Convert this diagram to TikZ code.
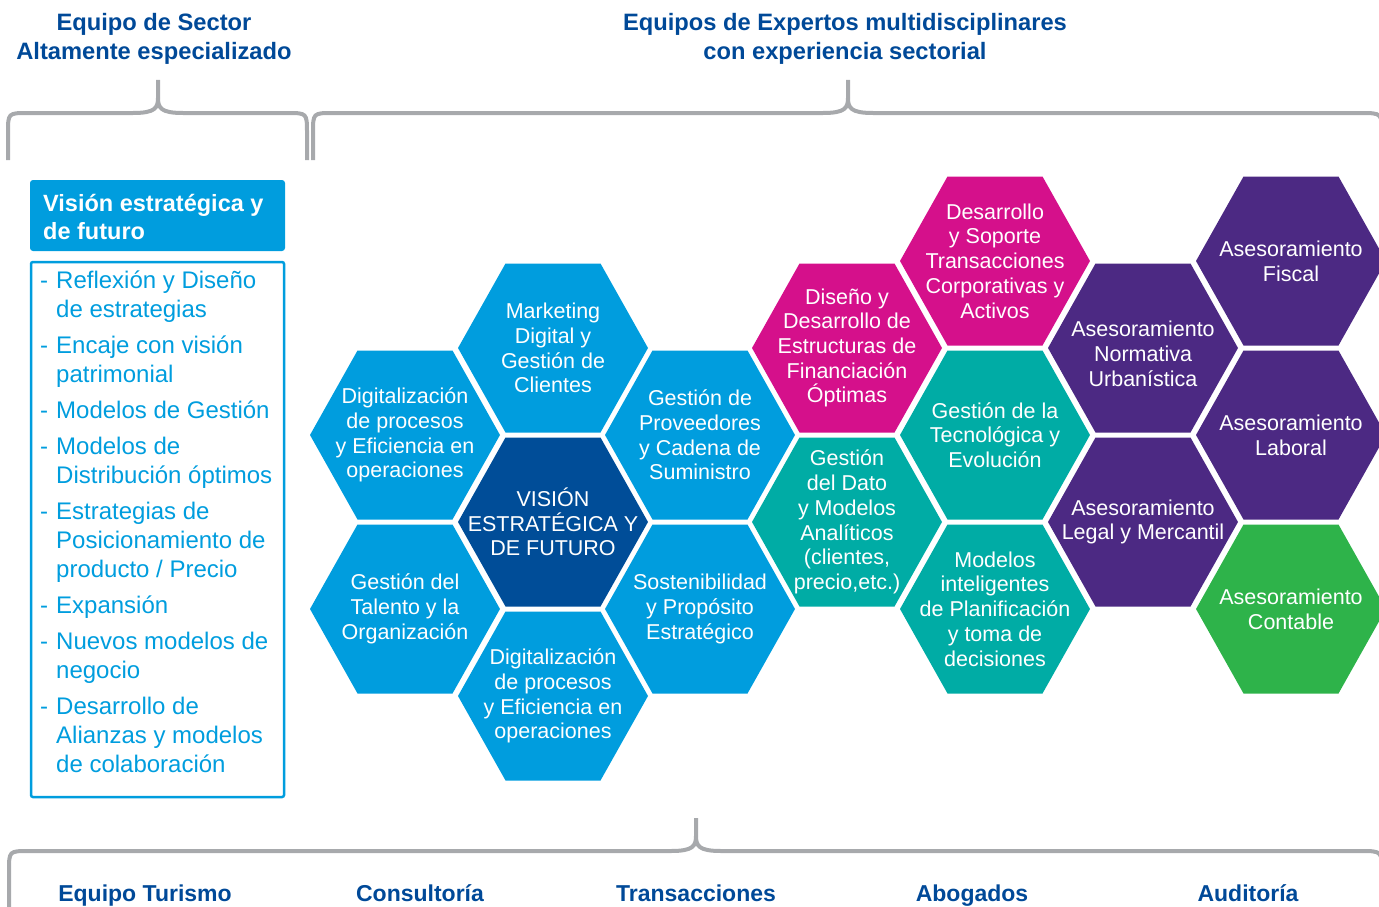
\documentclass[tikz,border=0pt]{standalone}
\usepackage{fontspec}
\setmainfont{Liberation Sans}
\usetikzlibrary{calc}
\definecolor{hexblue}{RGB}{0,157,222}
\definecolor{hexdark}{RGB}{0,77,152}
\definecolor{hexmag}{RGB}{213,16,139}
\definecolor{hexteal}{RGB}{0,172,165}
\definecolor{hexpurple}{RGB}{76,41,131}
\definecolor{hexgreen}{RGB}{46,179,74}
\definecolor{bracegray}{RGB}{167,169,172}
\definecolor{navy}{RGB}{0,73,152}
\definecolor{boxblue}{RGB}{0,157,222}
\tikzset{
  hextext/.style={text=white, align=center, font=\fontsize{21.5}{24.7}\selectfont, inner sep=0pt},
  header/.style={text=navy, align=center, font=\bfseries\fontsize{23.7}{29}\selectfont, inner sep=0pt},
  footer/.style={text=navy, font=\bfseries\fontsize{23}{28}\selectfont, inner sep=0pt, anchor=base},
  bracepath/.style={draw=bracegray, line width=4pt},
  listtext/.style={text=boxblue, font=\fontsize{24}{29}\selectfont, inner sep=0pt, anchor=base west},
  titletext/.style={text=white, font=\bfseries\fontsize{23.5}{28}\selectfont, inner sep=0pt, anchor=base west}
}
\newcommand{\hexcell}[5]{%
  \fill[#4] (#2-95,#3) -- (#2-47.5,#3-84.5) -- (#2+47.5,#3-84.5) -- (#2+95,#3) -- (#2+47.5,#3+84.5) -- (#2-47.5,#3+84.5) -- cycle;
  \node[hextext] (#1) at (#2,#3) {#5};
}
\begin{document}
\begin{tikzpicture}[x=1pt,y=-1pt]
\useasboundingbox (0,0) rectangle (1379,907);

% headers
\node[header] (hsector) at (154,39) {Equipo de Sector\\Altamente especializado};
\node[header] (hexpert) at (845,39) {Equipos de Expertos multidisciplinares\\con experiencia sectorial};

% top braces
\draw[bracepath] (8,160) -- (8,133) .. controls (8,113) .. (28,113) -- (133,113)
  .. controls (155,113) and (158,108) .. (158,98) -- (158,80);
\draw[bracepath] (158,98) .. controls (158,108) and (161,113) .. (183,113) -- (287,113)
  .. controls (307,113) .. (307,133) -- (307,160);
\draw[bracepath] (313,160) -- (313,133) .. controls (313,113) .. (333,113) -- (823,113)
  .. controls (845,113) and (848,108) .. (848,98) -- (848,80);
\draw[bracepath] (848,98) .. controls (848,108) and (851,113) .. (873,113) -- (1360,113)
  .. controls (1382,113) .. (1382,135) -- (1382,160);

% bottom brace
\draw[bracepath] (9,915) -- (9,871) .. controls (9,851) .. (29,851) -- (671,851)
  .. controls (693,851) and (696,846) .. (696,836) -- (696,818);
\draw[bracepath] (696,836) .. controls (696,846) and (699,851) .. (721,851) -- (1360,851)
  .. controls (1382,851) .. (1382,873) -- (1382,915);

% left panel
\fill[boxblue, rounded corners=3pt] (30,180) rectangle (285,251);
\node[titletext] (title) at (43,211) {\begin{tabular}[t]{@{}l@{}}Visión estratégica y\\de futuro\end{tabular}};
\draw[boxblue, line width=2.5pt, rounded corners=2pt] (31,262) rectangle (284,797);
\node[listtext] (list) at (40,288) {\begin{tabular}[t]{@{}l@{\hspace{8pt}}l@{}}
-&Reflexión y Diseño\\&de estrategias\\[7pt]
-&Encaje con visión\\&patrimonial\\[7pt]
-&Modelos de Gestión\\[7pt]
-&Modelos de\\&Distribución óptimos\\[7pt]
-&Estrategias de\\&Posicionamiento de\\&producto / Precio\\[7pt]
-&Expansión\\[7pt]
-&Nuevos modelos de\\&negocio\\[7pt]
-&Desarrollo de\\&Alianzas y modelos\\&de colaboración
\end{tabular}};

% hexagons
\hexcell{digi1}{405}{435}{hexblue}{Digitalización\\de procesos\\y Eficiencia en\\operaciones}
\hexcell{talento}{405}{609}{hexblue}{Gestión del\\Talento y la\\Organización}
\hexcell{marketing}{553}{348}{hexblue}{Marketing\\Digital y\\Gestión de\\Clientes}
\hexcell{vision}{553}{522}{hexdark}{VISIÓN\\ESTRATÉGICA Y\\DE FUTURO}
\hexcell{digi2}{553}{696}{hexblue}{Digitalización\\de procesos\\y Eficiencia en\\operaciones}
\hexcell{proveedores}{700}{435}{hexblue}{Gestión de\\Proveedores\\y Cadena de\\Suministro}
\hexcell{sostenibilidad}{700}{609}{hexblue}{Sostenibilidad\\y Propósito\\Estratégico}
\hexcell{diseno}{847}{348}{hexmag}{Diseño y\\Desarrollo de\\Estructuras de\\Financiación\\Óptimas}
\hexcell{dato}{847}{522}{hexteal}{Gestión\\del Dato\\y Modelos\\Analíticos\\(clientes,\\precio,etc.)}
\hexcell{soporte}{995}{261}{hexmag}{Desarrollo\\y Soporte\\Transacciones\\Corporativas y\\Activos}
\hexcell{tecno}{995}{435}{hexteal}{Gestión de la\\Tecnológica y\\Evolución}
\hexcell{modelos}{995}{609}{hexteal}{Modelos\\inteligentes\\de Planificación\\y toma de\\decisiones}
\fill[hexpurple] (1143-95,348) -- (1143-47.5,348-84.5) -- (1143+47.5,348-84.5) -- (1143+95,348) -- (1143+47.5,348+84.5) -- (1143-47.5,348+84.5) -- cycle;
\node[hextext] (normativa) at (1143,354) {Asesoramiento\\Normativa\\Urbanística};
\hexcell{legal}{1143}{522}{hexpurple}{Asesoramiento\\Legal y Mercantil}
\hexcell{fiscal}{1291}{261}{hexpurple}{Asesoramiento\\Fiscal}
\hexcell{laboral}{1291}{435}{hexpurple}{Asesoramiento\\Laboral}
\hexcell{contable}{1291}{609}{hexgreen}{Asesoramiento\\Contable}

% footer labels
\node[footer] (turismo) at (145,901) {Equipo Turismo};
\node[footer] (consultoria) at (420,901) {Consultoría};
\node[footer] (transacciones) at (696,901) {Transacciones};
\node[footer] (abogados) at (972,901) {Abogados};
\node[footer] (auditoria) at (1248,901) {Auditoría};
\end{tikzpicture}
\end{document}
